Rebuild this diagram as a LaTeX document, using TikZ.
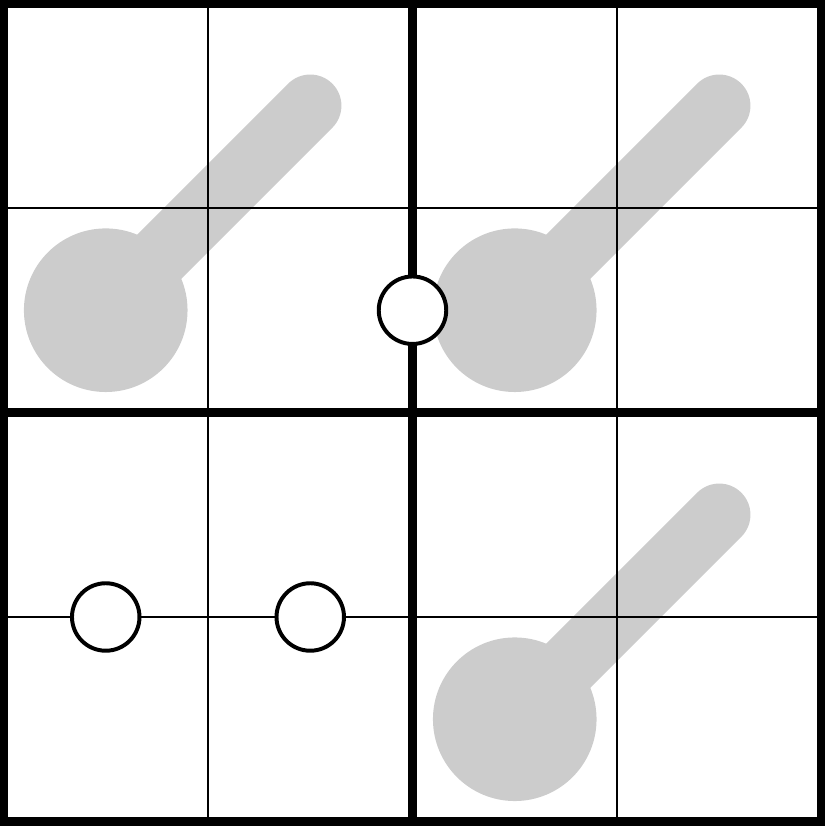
\documentclass[tikz,border=0pt]{standalone}
\usetikzlibrary{positioning}
\definecolor{keygray}{HTML}{CCCCCC}
\tikzset{
	thinrule/.style={line width=0.8pt}
}
\tikzset{
	thickrule/.style={line width=2.3pt}
}
\tikzset{
	keystem/.style={keygray, line width=0.61cm, line cap=round},
	keyhead/.style={fill=keygray},
	hole/.style={circle, draw, line width=1.1pt, fill=white, minimum size=0.66cm, inner sep=0pt}
}

\begin{document}
\begin{tikzpicture}
      \useasboundingbox (-0.034,-0.044) rectangle (8.032,8.034);
      % gray keys, under the grid
      \foreach \x/\y in {1/5, 5/5, 5/1} {
        \draw[keystem] (\x,\y) -- ++(2,2);
        \fill[keyhead] (\x,\y) circle (0.8);
      }
      % grid: thin cells, thick blocks
      \draw[thinrule, step=2] (0,0) grid (8,8);
      \draw[thickrule] (0,0) rectangle (8,8);
      \draw[thickrule] (4,0) -- (4,8) (0,4) -- (8,4);
      % open holes
      \node[hole] (holea) at (4,5) {};
      \node[hole] (holeb) at (1,2) {};
      \node[hole] (holec) at (3,2) {};
    \end{tikzpicture}
\end{document}
